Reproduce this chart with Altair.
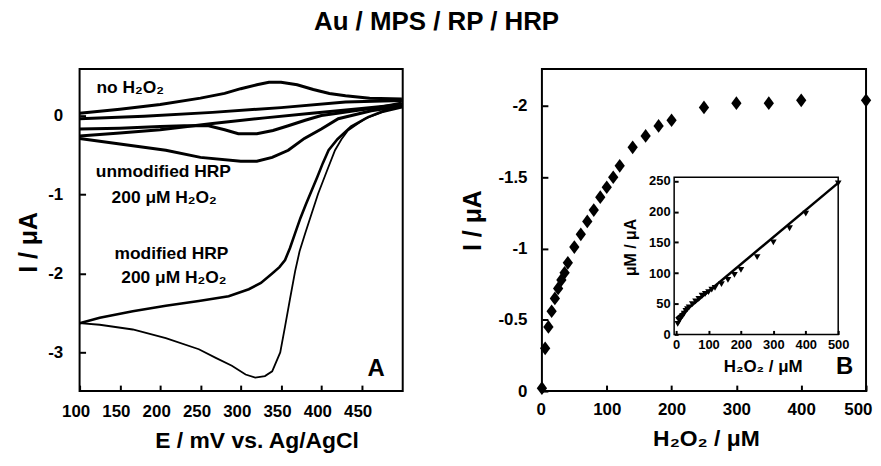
import altair as alt
import pandas as pd

FONT = "Liberation Sans"

# ---------------- Panel A: cyclic voltammograms (E / mV, I / uA) ----------------
noh_an_E = [100, 150, 200, 250, 280, 300, 320, 335, 350, 370, 390, 410, 430, 460, 500]
noh_an_I = [0.03, 0.08, 0.14, 0.22, 0.28, 0.34, 0.39, 0.42, 0.42, 0.39, 0.33, 0.28, 0.25, 0.22, 0.21]
extra_E = [100, 180, 265, 350, 430, 500]
extra_I = [-0.04, -0.01, 0.04, 0.10, 0.17, 0.19]
noh_ca_E = [500, 470, 441, 420, 400, 380, 359, 340, 320, 297, 280, 260, 230, 200, 150, 100]
noh_ca_I = [0.16, 0.10, 0.06, 0.03, 0.00, -0.06, -0.13, -0.19, -0.23, -0.23, -0.18, -0.13, -0.13, -0.14, -0.16, -0.17]
unm_an_E = [100, 150, 200, 265, 330, 388, 450, 500]
unm_an_I = [-0.26, -0.22, -0.18, -0.10, -0.03, 0.03, 0.09, 0.14]
unm_ca_E = [500, 462, 421, 400, 379, 359, 339, 320, 300, 250, 207, 150, 100]
unm_ca_I = [0.12, 0.06, -0.04, -0.17, -0.29, -0.44, -0.53, -0.58, -0.58, -0.53, -0.44, -0.36, -0.29]
mod_an_E = [100, 125, 166, 207, 248, 285, 310, 325, 339, 348, 355, 361, 367.5, 374, 381, 388, 395, 402, 409, 420, 437, 458, 478, 500]
mod_an_I = [-2.63, -2.56, -2.48, -2.41, -2.35, -2.29, -2.20, -2.12, -2.00, -1.92, -1.83, -1.68, -1.49, -1.30, -1.12, -0.95, -0.78, -0.60, -0.44, -0.30, -0.14, -0.02, 0.06, 0.12]
mod_ca_E = [500, 475, 454, 433, 425, 417, 407, 396, 388, 380, 373, 367.5, 361, 355, 349, 339, 330, 318, 306, 289, 269, 248, 207, 166, 125, 100]
mod_ca_I = [0.10, 0.04, -0.04, -0.19, -0.30, -0.44, -0.70, -0.99, -1.24, -1.49, -1.72, -1.97, -2.33, -2.67, -3.00, -3.24, -3.30, -3.32, -3.28, -3.17, -3.07, -2.96, -2.82, -2.71, -2.65, -2.63]

labelsA_text = ["unmodified HRP", "200 μM H₂O₂", "modified HRP", "200 μM H₂O₂"]
labelsA_E = [204, 205, 214, 217]
labelsA_I = [-0.72, -1.05, -1.75, -2.06]
noh_label = ["no H₂O₂"]
noh_label_E = [121]
noh_label_I = [0.35]
panelA_tag = ["A"]
panelA_tag_E = [468]
panelA_tag_I = [-3.21]

xA_ticks = [100, 150, 200, 250, 300, 350, 400, 450]
yA_ticks = [0, -1, -2, -3]
xA_dom = [100, 501]
yA_dom = [-3.49, 0.59]

# ---------------- Panel B: calibration (H2O2 / uM, I / uA) ----------------
conc = [0, 5, 10, 15, 20, 25, 30, 35, 40, 50, 60, 70, 80, 90, 100, 110, 120, 140, 160, 180, 200, 250, 300, 350, 400, 500]
current = [-0.02, -0.30, -0.45, -0.56, -0.65, -0.72, -0.78, -0.83, -0.90, -1.01, -1.10, -1.19, -1.27, -1.36, -1.43, -1.50, -1.58, -1.71, -1.79, -1.86, -1.90, -1.99, -2.02, -2.02, -2.04, -2.04]
panelB_tag = ["B"]
panelB_tag_c = [467]
panelB_tag_i = [-0.17]
xB_ticks = [0, 100, 200, 300, 400, 500]
yB_ticks = [0, -0.5, -1, -1.5, -2]
xB_dom = [0, 500]
yB_dom = [0, -2.26]

# inset: [H2O2]/I vs [H2O2]
ins_x = [5, 10, 15, 20, 25, 30, 35, 40, 50, 60, 70, 80, 90, 100, 110, 120, 140, 160, 180, 200, 250, 300, 350, 400, 500]
ins_y = [17, 22, 27, 30, 34, 38.5, 41, 44, 49.5, 54, 58, 63, 66, 69, 73, 76, 82, 89, 97, 105, 126, 150, 173, 197, 246]
fit_x = [0, 500]
fit_y = [26, 247]
insX_ticks = [0, 100, 200, 300, 400, 500]
insY_ticks = [0, 50, 100, 150, 200, 250]
insX_dom = [-6, 500]
insY_dom = [0, 256]

# ---------------- layout constants ----------------
W, H = 325, 324
TK = 6  # inward tick length
ins_x_range = [133, 298]
ins_y_range = [267, 109]

common = dict(labelFont=FONT, labelFontWeight="bold", labelColor="black",
              titleFont=FONT, titleFontWeight="bold", titleColor="black",
              tickColor="black", tickWidth=2, grid=False, domain=False, ticks=True, zindex=1)
minus_fix = "'' + datum.value"

# ---------- Panel A ----------
def cv_frame(branches):
    rows = []
    for name, Es, Is in branches:
        for k, (e, i) in enumerate(zip(Es, Is)):
            rows.append({"branch": name, "k": k, "E": e, "I": i})
    return pd.DataFrame(rows)

small_df = cv_frame([("noh_an", noh_an_E, noh_an_I), ("extra", extra_E, extra_I),
                     ("noh_ca", noh_ca_E, noh_ca_I),
                     ("unm_an", unm_an_E, unm_an_I), ("unm_ca", unm_ca_E, unm_ca_I)])
mod_an_df = cv_frame([("mod_an", mod_an_E, mod_an_I)])
mod_ca_df = cv_frame([("mod_ca", mod_ca_E, mod_ca_I)])

xA = alt.X("E:Q", scale=alt.Scale(domain=xA_dom, nice=False, zero=False),
           axis=alt.Axis(values=xA_ticks, title="E / mV vs. Ag/AgCl", offset=-TK, tickSize=TK,
                         labelPadding=13, labelFontSize=17, titleFontSize=23, labelFlush=False,
                         labelOffset=-4,
                         titleX=178, titleY=63, titleBaseline="alphabetic", **common))
yA = alt.Y("I:Q", scale=alt.Scale(domain=yA_dom, nice=False, zero=False),
           axis=alt.Axis(values=yA_ticks, labelExpr=minus_fix, title="I / μA", offset=-TK, tickSize=TK,
                         labelPadding=17, labelFontSize=17, titleFontSize=25, labelFlush=False,
                         titleX=-57, titleY=174, titleBaseline="middle", **common))

lines_small = alt.Chart(small_df).mark_line(color="black", strokeWidth=3).encode(
    x=xA, y=yA, detail="branch:N", order="k:Q")
line_mod_an = alt.Chart(mod_an_df).mark_line(color="black", strokeWidth=2.6).encode(
    x="E:Q", y="I:Q", order="k:Q")
line_mod_ca = alt.Chart(mod_ca_df).mark_line(color="black", strokeWidth=1.8).encode(
    x="E:Q", y="I:Q", order="k:Q")

txtA = alt.Chart(pd.DataFrame({"E": labelsA_E, "I": labelsA_I, "t": labelsA_text})).mark_text(
    font=FONT, fontWeight="bold", fontSize=17.5, align="center", baseline="middle", color="black"
).encode(x="E:Q", y="I:Q", text="t:N")
txtA0 = alt.Chart(pd.DataFrame({"E": noh_label_E, "I": noh_label_I, "t": noh_label})).mark_text(
    font=FONT, fontWeight="bold", fontSize=17.5, align="left", baseline="middle", color="black"
).encode(x="E:Q", y="I:Q", text="t:N")
tagA = alt.Chart(pd.DataFrame({"E": panelA_tag_E, "I": panelA_tag_I, "t": panelA_tag})).mark_text(
    font=FONT, fontWeight="bold", fontSize=24, align="center", baseline="middle", color="black"
).encode(x="E:Q", y="I:Q", text="t:N")

panelA = alt.layer(lines_small, line_mod_an, line_mod_ca, txtA, txtA0, tagA).properties(width=W, height=H)

# ---------- Panel B ----------
diamond = "M0,-1L0.75,0L0,1L-0.75,0Z"
xB = alt.X("c:Q", scale=alt.Scale(domain=xB_dom, nice=False, zero=False),
           axis=alt.Axis(values=xB_ticks, title="H₂O₂ / μM", offset=-TK, tickSize=TK,
                         labelPadding=11, labelFontSize=17, titleFontSize=23,
                         labelFlush=True, labelFlushOffset=6,
                         titleX=165, titleY=61, titleBaseline="alphabetic", **common))
yB = alt.Y("i:Q", scale=alt.Scale(domain=yB_dom, nice=False, zero=False),
           axis=alt.Axis(values=yB_ticks, labelExpr=minus_fix, title="I / μA", offset=-TK, tickSize=TK,
                         labelPadding=15, labelFontSize=17, titleFontSize=25, labelFlush=False,
                         titleX=-76, titleY=152, titleBaseline="middle", **common))

pts = alt.Chart(pd.DataFrame({"c": conc, "i": current})).mark_point(
    shape=diamond, filled=True, size=190, color="black", opacity=1).encode(x=xB, y=yB)
tagB = alt.Chart(pd.DataFrame({"c": panelB_tag_c, "i": panelB_tag_i, "t": panelB_tag})).mark_text(
    font=FONT, fontWeight="bold", fontSize=24, align="center", baseline="middle", color="black"
).encode(x="c:Q", y="i:Q", text="t:N")
mainB = alt.layer(pts, tagB)

xI = alt.X("ix:Q", scale=alt.Scale(domain=insX_dom, range=ins_x_range, nice=False, zero=False),
           axis=alt.Axis(orient="bottom", values=insX_ticks, offset=-(H - ins_y_range[0]) - 4, tickSize=4,
                         labelPadding=4, labelFontSize=13, title="H₂O₂ / μM", titleFontSize=17,
                         labelFlush=False,
                         titleX=222, titleY=36, titleBaseline="middle", **common))
yI = alt.Y("iy:Q", scale=alt.Scale(domain=insY_dom, range=ins_y_range, nice=False, zero=False),
           axis=alt.Axis(orient="left", values=insY_ticks, offset=-ins_x_range[0] - 4, tickSize=4,
                         labelPadding=4, labelFontSize=13, title="μM / μA", titleFontSize=16,
                         labelFlush=False,
                         titleX=-48, titleY=179, titleBaseline="middle", **common))

ins_pts = alt.Chart(pd.DataFrame({"ix": ins_x, "iy": ins_y})).mark_point(
    shape="triangle-down", filled=True, size=45, color="black", opacity=1).encode(x=xI, y=yI)
ins_line = alt.Chart(pd.DataFrame({"ix": fit_x, "iy": fit_y})).mark_line(
    color="black", strokeWidth=2.5).encode(x="ix:Q", y="iy:Q")
ins_frame = alt.Chart(pd.DataFrame({"ix": [insX_dom[0]], "ix2": [insX_dom[1]],
                                    "iy": [insY_dom[0]], "iy2": [insY_dom[1]]})).mark_rect(
    fillOpacity=0, stroke="black", strokeWidth=1.5).encode(x="ix:Q", x2="ix2:Q", y="iy:Q", y2="iy2:Q")
inset = alt.layer(ins_pts, ins_line, ins_frame)

panelB = alt.layer(mainB, inset).resolve_scale(x="independent", y="independent").properties(width=W + 1, height=H)

chart = alt.hconcat(panelA, panelB, spacing=50).properties(
    title=alt.TitleParams("Au / MPS / RP / HRP", font=FONT, fontWeight="bold", fontSize=26,
                          color="black", anchor="middle", offset=33, dx=-8),
    padding={"left": 8, "top": 0, "right": 0, "bottom": 0},
).configure_view(stroke="black", strokeWidth=2)

chart.save("out.html", embed_options={"renderer": "svg", "actions": False})
